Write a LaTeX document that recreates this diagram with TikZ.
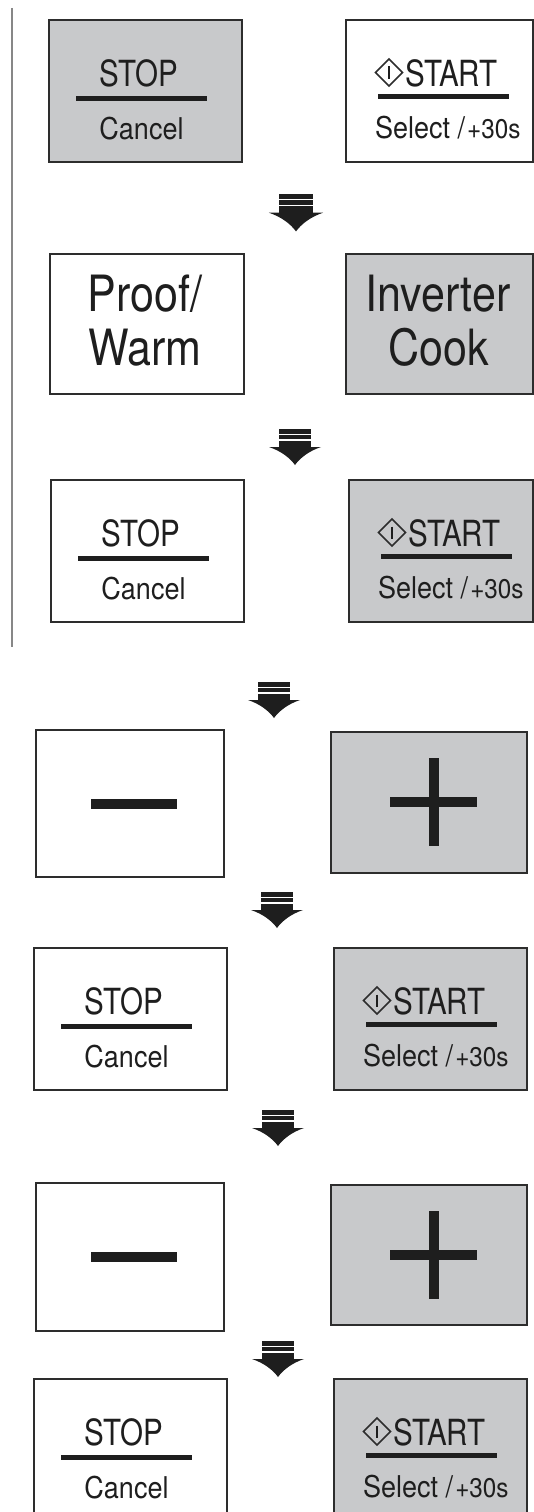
\documentclass[tikz,border=0pt]{standalone}
\usepackage{fontspec}
\setmainfont{TeX Gyre Heros}
\newfontfamily\keyfont[FakeStretch=0.82]{TeX Gyre Heros}
\newfontfamily\subfont[FakeStretch=0.9]{TeX Gyre Heros}
\newfontfamily\bigfont[FakeStretch=0.86]{TeX Gyre Heros}
\definecolor{keygray}{RGB}{200,201,203}
\definecolor{keyline}{RGB}{45,45,45}
\definecolor{keyink}{RGB}{30,30,30}
\definecolor{sidegray}{RGB}{135,135,135}

\tikzset{
    keybox/.style={draw=keyline, line width=1.8pt, minimum width=193pt, minimum height=142pt, inner sep=0pt, anchor=north west},
    keyon/.style={keybox, fill=keygray},
    keyoff/.style={keybox, fill=white},
    keytext/.style={font=\keyfont\fontsize{36}{36}\selectfont, text=keyink, inner sep=0pt, anchor=base},
    subtext/.style={font=\subfont\fontsize{30}{30}\selectfont, text=keyink, inner sep=0pt, anchor=base},
    bigtext/.style={font=\bigfont\fontsize{50}{50}\selectfont, text=keyink, inner sep=0pt, anchor=base},
    keybar/.style={keyink, line width=5pt},
    pics/stopkey/.style={code={
        \node[#1] (-box) at (0,0) {};
        \node[keytext] (-top) at (91,67) {STOP};
        \draw[keybar] (28,79) -- (159,79);
        \node[subtext] (-bot) at (93.5,120) {Cancel};
    }},
    pics/startkey/.style={code={
        \node[#1] (-box) at (0,0) {};
        \draw[keyline, line width=1.7pt] (30.5,53.5) -- (44,40) -- (57.5,53.5) -- (44,67) -- cycle;
        \draw[keyink, line width=2.2pt] (44,47.5) -- (44,59.5);
        \node[keytext, anchor=base west] (-top) at (60,67) {START};
        \draw[keybar] (33,77) -- (164,77);
        \node[subtext, anchor=base west] (-bot) at (30,119) {Select /\kern2pt{\fontsize{27}{27}\selectfont+30s}};
    }},
    pics/minuskey/.style={code={
        \node[#1] (-box) at (0,0) {};
        \fill[keyink] (56,69.5) rectangle (142,79.5);
    }},
    pics/pluskey/.style={code={
        \node[#1] (-box) at (0,0) {};
        \fill[keyink] (60,65.5) rectangle (147,75.5);
        \fill[keyink] (98.5,26.5) rectangle (108.5,114.5);
    }},
    pics/flowarrow/.style={code={
        \fill[keyink] (-16,0) rectangle (16,18);
        \draw[white, line width=1.1pt] (-16,5.5) -- (16,5.5) (-16,11) -- (16,11);
        \fill[keyink] (-26,18) -- (26,18) .. controls (14,22) and (5,29) .. (0,36)
            .. controls (-5,29) and (-14,22) .. (-26,18) -- cycle;
    }}
}

\begin{document}
\begin{tikzpicture}[x=1pt, y=-1pt]
    \useasboundingbox (0,0) rectangle (534,1512);
    % side rule
    \draw[sidegray, line width=1.8pt] (12,8) -- (12,647);

    % row 1
    \pic (r1stop) at (48,19) {stopkey=keyon};
    \pic (r1start) at (345,19) {startkey={keyoff, minimum width=187pt}};

    % row 2
    \node[keyoff, minimum width=194pt, minimum height=140pt] (proof) at (49,253) {};
    \node[bigtext] (proofA) at (145,311) {Proof/};
    \node[bigtext] (proofB) at (145,365) {Warm};
    \node[keyon, minimum width=187pt, minimum height=140pt] (inv) at (345,253) {};
    \node[bigtext] (invA) at (438,311) {Inverter};
    \node[bigtext] (invB) at (439,365) {Cook};

    % row 3
    \pic (r3stop) at (50,479) {stopkey=keyoff};
    \pic (r3start) at (348,479) {startkey={keyon, minimum width=184pt}};

    % row 4
    \pic (r4minus) at (35,729) {minuskey={keyoff, minimum width=188pt, minimum height=147pt}};
    \pic (r4plus) at (330,731) {pluskey={keyon, minimum width=196pt, minimum height=141pt}};

    % row 5
    \pic (r5stop) at (33,947) {stopkey=keyoff};
    \pic (r5start) at (333,947) {startkey=keyon};

    % row 6
    \pic (r6minus) at (35,1182) {minuskey={keyoff, minimum width=188pt, minimum height=148pt}};
    \pic (r6plus) at (330,1184) {pluskey={keyon, minimum width=196pt, minimum height=140pt}};

    % row 7
    \pic (r7stop) at (33,1378) {stopkey=keyoff};
    \pic (r7start) at (333,1378) {startkey=keyon};

    % arrows between the rows
    \foreach \x/\y/\s in {296/194/1.04, 295/429/1.0, 274/682/1.0, 277/892/1.0, 278/1110/1.0, 278/1341/1.0}
        \pic[scale=\s] at (\x,\y) {flowarrow};
\end{tikzpicture}
\end{document}
